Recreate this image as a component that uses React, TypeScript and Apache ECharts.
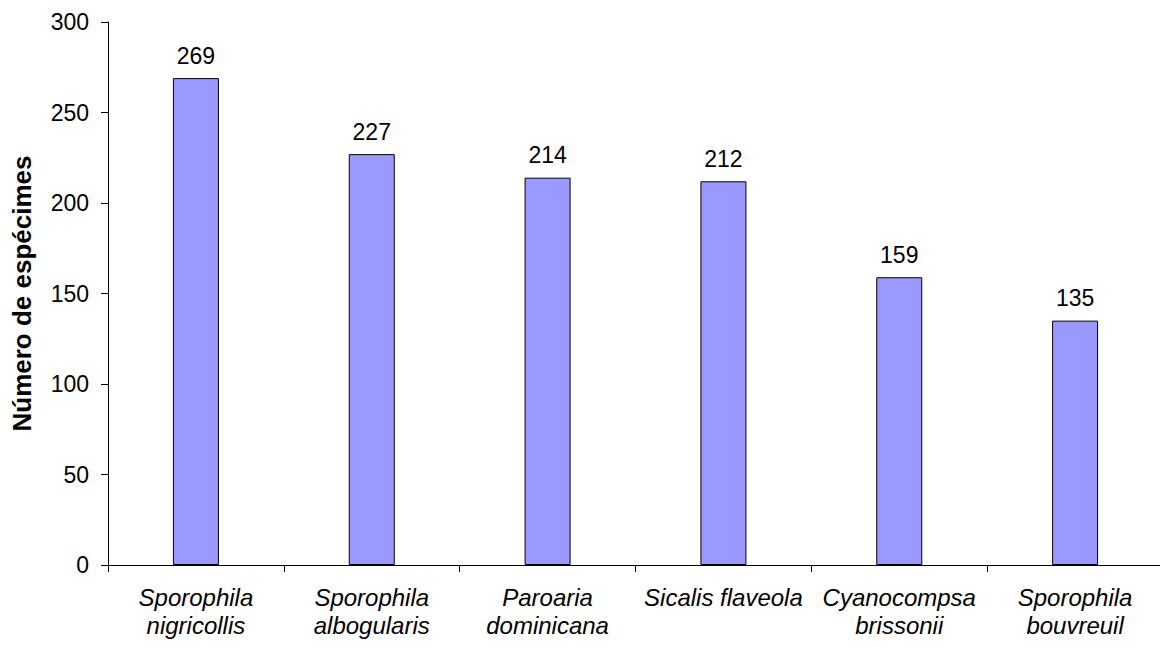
import React, { useEffect, useRef } from "react";
import * as echarts from "echarts";

const species = [
  "Sporophila\nnigricollis",
  "Sporophila\nalbogularis",
  "Paroaria\ndominicana",
  "Sicalis flaveola",
  "Cyanocompsa\nbrissonii",
  "Sporophila\nbouvreuil",
];
const specimens = [269, 227, 214, 212, 159, 135];
const yTitle = "Número de espécimes";

const FONT = "Arial, 'Liberation Sans', Helvetica, sans-serif";

export default function App() {
  const ref = useRef<HTMLDivElement>(null);

  useEffect(() => {
    if (!ref.current) return;
    const chart = echarts.init(ref.current, undefined, { renderer: "svg" });
    chart.setOption({
      animation: false,
      backgroundColor: "#ffffff",
      grid: { left: 108, right: 5, top: 22, bottom: 82, containLabel: false },
      xAxis: {
        type: "category",
        data: species,
        axisLine: { lineStyle: { color: "#000", width: 1 } },
        axisTick: { show: true, length: 7, alignWithLabel: false, lineStyle: { color: "#000" } },
        axisLabel: {
          color: "#000",
          fontFamily: FONT,
          fontSize: 24,
          fontStyle: "italic",
          lineHeight: 28,
          margin: 18,
          interval: 0,
        },
      },
      yAxis: {
        type: "value",
        min: 0,
        max: 300,
        interval: 50,
        name: yTitle,
        nameLocation: "middle",
        nameGap: 73,
        nameTextStyle: {
          color: "#000",
          fontFamily: FONT,
          fontSize: 26,
          fontWeight: "bold",
        },
        axisLine: { show: true, lineStyle: { color: "#000", width: 1 } },
        axisTick: { show: true, length: 7, lineStyle: { color: "#000" } },
        splitLine: { show: false },
        axisLabel: {
          color: "#000",
          fontFamily: FONT,
          fontSize: 23,
          margin: 19,
        },
      },
      series: [
        {
          type: "bar",
          data: specimens,
          barWidth: 46,
          itemStyle: { color: "#9999FF", borderColor: "#000", borderWidth: 1 },
          label: {
            show: true,
            position: "top",
            distance: 11,
            color: "#000",
            fontFamily: FONT,
            fontSize: 23,
          },
        },
      ],
    });
    return () => chart.dispose();
  }, []);

  return <div ref={ref} style={{ width: 1168, height: 647, margin: -8 }} />;
}
